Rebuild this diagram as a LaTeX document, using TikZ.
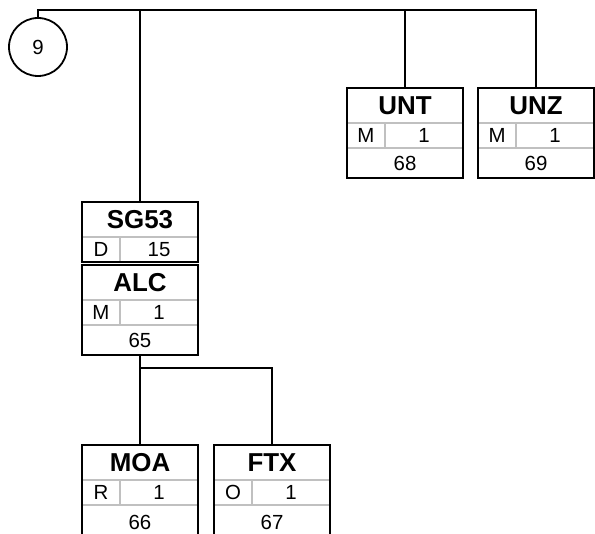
\documentclass[tikz,border=0pt]{standalone}
\usepackage{fontspec}
\setmainfont{Liberation Sans}
\usetikzlibrary{positioning,calc}
\definecolor{gris}{RGB}{192,192,192}

\begin{document}
\begin{tikzpicture}[x=1bp, y=-1bp,
  cab/.style={draw=gris, line width=2bp, font=\fontsize{26}{26}\selectfont\bfseries,
    minimum width=116bp, minimum height=35bp, inner sep=0pt, outer sep=0pt},
  est/.style={draw=gris, line width=2bp, font=\fontsize{20.5}{20.5}\selectfont,
    minimum width=38bp, minimum height=25bp, inner sep=0pt, outer sep=0pt},
  rep/.style={est, minimum width=78bp},
  num/.style={est, minimum width=116bp, minimum height=30bp},
  marco/.style={draw=black, line width=2.5bp},
  linea/.style={draw=black, line width=2.5bp},
]
  \useasboundingbox (0,0) rectangle (595,534);
  \clip (0,0) rectangle (595,534);
  % ---- Arranque ----
  \node[circle, draw, line width=1.8bp, minimum size=58bp, inner sep=0pt,
    font=\fontsize{20.5}{20.5}\selectfont] (nueve) at (38,47) {9};
  % ---- Segmentos de cierre (derecha) ----
  \node[cab] (unt) at (405,105.5) {UNT};
  \node[est, below right=0pt of unt.south west] (untE) {M};
  \node[rep, right=0pt of untE] (untR) {1};
  \node[num, below right=0pt of untE.south west] (untN) {68};
  \draw[marco] (unt.north west) rectangle (untN.south east);
  \node[cab] (unz) at (536,105.5) {UNZ};
  \node[est, below right=0pt of unz.south west] (unzE) {M};
  \node[rep, right=0pt of unzE] (unzR) {1};
  \node[num, below right=0pt of unzE.south west] (unzN) {69};
  \draw[marco] (unz.north west) rectangle (unzN.south east);
  % ---- Grupo SG53 ----
  \node[cab] (sg53) at (140,219.5) {SG53};
  \node[est, below right=0pt of sg53.south west] (sg53E) {D};
  \node[rep, right=0pt of sg53E] (sg53R) {15};
  \draw[marco] (sg53.north west) rectangle (sg53R.south east);
  \node[cab] (alc) at (140,282.5) {ALC};
  \node[est, below right=0pt of alc.south west] (alcE) {M};
  \node[rep, right=0pt of alcE] (alcR) {1};
  \node[num, below right=0pt of alcE.south west] (alcN) {65};
  \draw[marco] (alc.north west) rectangle (alcN.south east);
  % ---- Hijos de ALC ----
  \node[cab] (moa) at (140,462.5) {MOA};
  \node[est, below right=0pt of moa.south west] (moaE) {R};
  \node[rep, right=0pt of moaE] (moaR) {1};
  \node[num, below right=0pt of moaE.south west, minimum height=34bp] (moaN) {66};
  \draw[marco] (moa.north west) rectangle (moaN.south east);
  \node[cab] (ftx) at (272,462.5) {FTX};
  \node[est, below right=0pt of ftx.south west] (ftxE) {O};
  \node[rep, right=0pt of ftxE] (ftxR) {1};
  \node[num, below right=0pt of ftxE.south west, minimum height=34bp] (ftxN) {67};
  \draw[marco] (ftx.north west) rectangle (ftxN.south east);
  % ---- Conexiones ----
  \coordinate (raiz) at (38,10);
  \coordinate (rama) at (140,368);
  \draw[linea] (nueve.north) -- (raiz) -| (unz.north);
  \draw[linea] (sg53.north) -- (sg53.north |- raiz);
  \draw[linea] (unt.north) -- (unt.north |- raiz);
  \draw[linea] (alcN.south) -- (rama) -| (ftx.north);
  \draw[linea] (rama) -- (moa.north);
\end{tikzpicture}
\end{document}
